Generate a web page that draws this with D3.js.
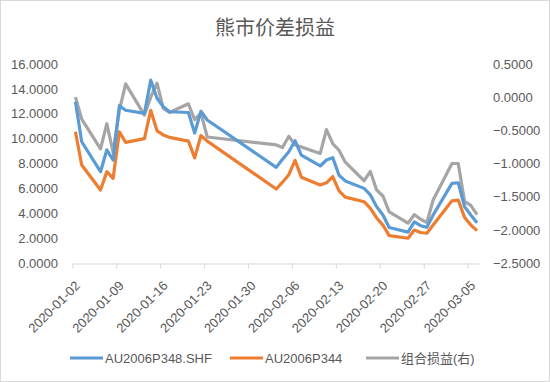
<!DOCTYPE html>
<html>
<head>
<meta charset="utf-8">
<title>熊市价差损益</title>
<script src="https://cdn.jsdelivr.net/npm/d3@7"></script>
<style>
  body { margin: 0; background: #fff; }
  text { font-family: "Liberation Sans", Arial, "Noto Sans CJK SC", sans-serif; }
</style>
</head>
<body>
<svg id="chart" width="550" height="382"></svg>
<script>
// trading days
var dates = ["2020-01-02","2020-01-03","2020-01-06","2020-01-07","2020-01-08","2020-01-09","2020-01-10",
  "2020-01-13","2020-01-14","2020-01-15","2020-01-16","2020-01-17","2020-01-20","2020-01-21","2020-01-22","2020-01-23",
  "2020-02-03","2020-02-04","2020-02-05","2020-02-06","2020-02-07","2020-02-10","2020-02-11","2020-02-12","2020-02-13","2020-02-14",
  "2020-02-17","2020-02-18","2020-02-19","2020-02-20","2020-02-21","2020-02-24","2020-02-25","2020-02-26","2020-02-27","2020-02-28",
  "2020-03-02","2020-03-03","2020-03-04","2020-03-05","2020-03-06"];

var p348 = [12.97, 9.75, 7.34, 9.1, 8.28, 12.65, 12.28,
  12.03, 14.70, 13.24, 12.56, 12.16, 12.10, 10.45, 12.20, 11.50,
  7.69, 8.34, 8.95, 9.83, 8.68, 7.80, 8.28, 8.47, 7.05, 6.60,
  6.00, 5.47, 4.53, 3.86, 2.85, 2.48, 3.30, 3.00, 2.87, 3.86,
  6.40, 6.45, 4.53, 3.86, 3.24];

var p344 = [10.55, 7.88, 5.87, 7.34, 6.80, 10.55, 9.70,
  10.00, 12.28, 10.63, 10.30, 10.10, 9.80, 8.45, 10.25, 9.80,
  5.95, 6.50, 7.10, 8.25, 6.90, 6.27, 6.45, 6.95, 5.80, 5.30,
  4.93, 4.40, 3.62, 3.05, 2.20, 1.99, 2.65, 2.45, 2.39, 3.05,
  5.00, 5.06, 3.67, 3.05, 2.60];

var combo = [0.00, -0.33, -0.78, -0.40, -0.83, -0.20, 0.20,
  -0.27, 0.00, 0.21, -0.17, -0.23, -0.10, -0.34, -0.24, -0.60,
  -0.72, -0.76, -0.59, -0.72, -0.75, -0.85, -0.49, -0.70, -0.80, -0.98,
  -1.26, -1.12, -1.40, -1.49, -1.73, -1.90, -1.77, -1.84, -1.89, -1.55,
  -1.00, -1.00, -1.57, -1.63, -1.77];

var xTickLabels = ["2020-01-02","2020-01-09","2020-01-16","2020-01-23","2020-01-30",
  "2020-02-06","2020-02-13","2020-02-20","2020-02-27","2020-03-05"];
var leftTicks = [0, 2, 4, 6, 8, 10, 12, 14, 16];
var rightTicks = [-2.5, -2, -1.5, -1, -0.5, 0, 0.5];

var seriesNames = ["AU2006P348.SHF", "AU2006P344", "组合损益(右)"];
var colors = ["#5B9BD5", "#ED7D31", "#A5A5A5"];

var svg = d3.select("#chart");
var parse = d3.utcParse("%Y-%m-%d");

// border of the chart area
svg.append("rect")
    .attr("x", 0.5).attr("y", 0.5)
    .attr("width", 549).attr("height", 381)
    .attr("fill", "#fff")
    .attr("stroke", "#d9d9d9");

svg.append("text")
    .attr("x", 275).attr("y", 35)
    .attr("text-anchor", "middle")
    .attr("fill", "#595959")
    .style("font-family", "'Noto Sans CJK SC', sans-serif")
    .style("font-size", "20px")
    .text("熊市价差损益");

var x = d3.scaleUtc()
    .domain([parse("2020-01-02"), parse("2020-03-07")])
    .range([72.3, 480.2]);

var yL = d3.scaleLinear().domain([0, 16]).range([263, 64]);
var yR = d3.scaleLinear().domain([-2.5, 0.5]).range([263, 64]);

// points sit in the middle of each day
var pts = dates.map(function(d) { return d3.utcHour.offset(parse(d), 12); });

// x axis
var gx = svg.append("g")
    .attr("transform", "translate(0,263.5)")
    .call(d3.axisBottom(x)
      .tickValues(xTickLabels.map(parse))
      .tickSizeInner(5).tickSizeOuter(0)
      .tickFormat(d3.utcFormat("%Y-%m-%d")));
gx.select(".domain").attr("stroke", "#d9d9d9");
gx.selectAll(".tick line").attr("stroke", "#d9d9d9");
gx.selectAll(".tick text")
    .attr("fill", "#595959")
    .style("font-size", "13px")
    .attr("text-anchor", "end")
    .attr("dy", null)
    .attr("y", null)
    .attr("transform", "translate(8,23) rotate(-45)");

// left axis
var gl = svg.append("g")
    .attr("transform", "translate(59,0)")
    .call(d3.axisLeft(yL).tickValues(leftTicks).tickSize(0).tickPadding(1).tickFormat(d3.format(".4f")));
gl.select(".domain").remove();
gl.selectAll("text").attr("fill", "#595959").style("font-size", "13px");

// right axis
var gr = svg.append("g")
    .attr("transform", "translate(492,0)")
    .call(d3.axisRight(yR).tickValues(rightTicks).tickSize(0).tickPadding(1).tickFormat(d3.format(".4f")));
gr.select(".domain").remove();
gr.selectAll("text").attr("fill", "#595959").style("font-size", "13px");

var lineL = d3.line().x(function(d, i) { return x(pts[i]); }).y(function(d) { return yL(d); });
var lineR = d3.line().x(function(d, i) { return x(pts[i]); }).y(function(d) { return yR(d); });

svg.append("path").datum(combo)
    .attr("fill", "none").attr("stroke", colors[2]).attr("stroke-width", 3.2)
    .attr("stroke-linejoin", "round").attr("d", lineR);
svg.append("path").datum(p344)
    .attr("fill", "none").attr("stroke", colors[1]).attr("stroke-width", 3.2)
    .attr("stroke-linejoin", "round").attr("d", lineL);
svg.append("path").datum(p348)
    .attr("fill", "none").attr("stroke", colors[0]).attr("stroke-width", 3.2)
    .attr("stroke-linejoin", "round").attr("d", lineL);

// legend
var legendX = [70, 230, 366];
var lg = svg.append("g").selectAll("g").data(seriesNames).join("g")
    .attr("transform", function(d, i) { return "translate(" + legendX[i] + ",358)"; });
lg.append("line")
    .attr("x1", 0).attr("x2", 33).attr("y1", 0).attr("y2", 0)
    .attr("stroke", function(d, i) { return colors[i]; })
    .attr("stroke-width", 3.2);
lg.append("text")
    .attr("x", 35).attr("dy", "0.35em")
    .attr("fill", "#595959")
    .style("font-size", "13px")
    .text(function(d) { return d; });
</script>
</body>
</html>
